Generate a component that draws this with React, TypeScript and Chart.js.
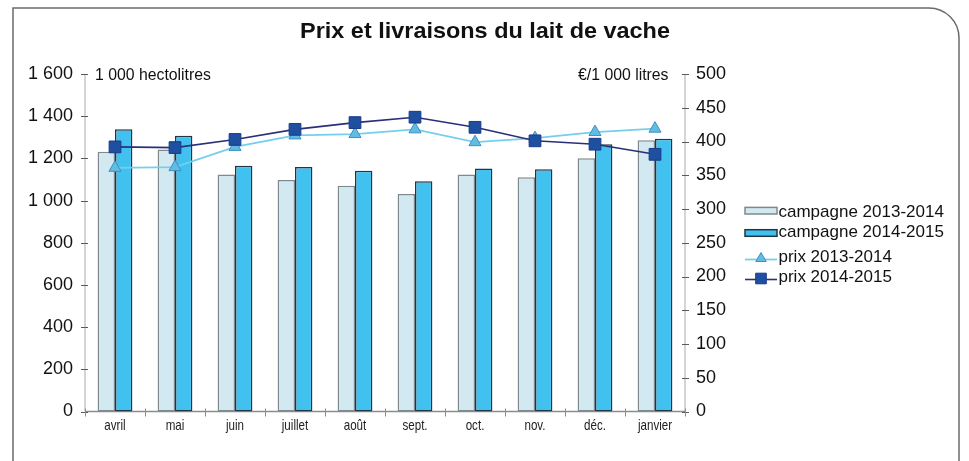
import React, { useEffect, useRef } from "react";
import { Chart, registerables } from "chart.js";

Chart.register(...registerables);

const FONT = "'Liberation Sans', Arial, Helvetica, sans-serif";

const chartTitle = "Prix et livraisons du lait de vache";
const leftUnit = "1 000 hectolitres";
const rightUnit = "€/1 000 litres";

const months = ["avril", "mai", "juin", "juillet", "août", "sept.", "oct.", "nov.", "déc.", "janvier"];
const livraisons2013 = [1231, 1242, 1124, 1097, 1070, 1031, 1124, 1111, 1201, 1286];
const livraisons2014 = [1338, 1307, 1165, 1159, 1141, 1091, 1152, 1148, 1267, 1293];
const prix2013 = [361, 362, 392, 409, 411, 418, 399, 405, 414, 419];
const prix2014 = [392, 391, 403, 418, 428, 436, 421, 401, 396, 381];

const seriesLabels = ["campagne 2013-2014", "campagne 2014-2015", "prix 2013-2014", "prix 2014-2015"];

const leftMax = 1600;
const leftStep = 200;
const rightMax = 500;
const rightStep = 50;

const fmtThousands = (v: number) =>
  v >= 1000 ? `${Math.floor(v / 1000)} ${String(v % 1000).padStart(3, "0")}` : String(v);

function drawMarker(ctx: CanvasRenderingContext2D, style: string, x: number, y: number, r: number) {
  ctx.beginPath();
  if (style === "triangle") {
    ctx.moveTo(x, y - r);
    ctx.lineTo(x + r * Math.sin(Math.PI * 2 / 3), y - r * Math.cos(Math.PI * 2 / 3));
    ctx.lineTo(x + r * Math.sin(Math.PI * 4 / 3), y - r * Math.cos(Math.PI * 4 / 3));
    ctx.closePath();
  } else {
    const s = r * Math.SQRT1_2;
    ctx.rect(x - s, y - s, 2 * s, 2 * s);
  }
  ctx.fill();
  ctx.stroke();
}

const decorPlugin = {
  id: "decor",
  beforeDatasetsDraw(chart: any) {
    const { ctx, chartArea: ca, scales } = chart;
    const ys = scales.y;
    const y1s = scales.y1;
    const xs = scales.x;
    const seg = (a: number, b: number, c: number, d: number) => {
      ctx.beginPath();
      ctx.moveTo(a, b);
      ctx.lineTo(c, d);
      ctx.stroke();
    };
    ctx.save();
    ctx.strokeStyle = "#c6c6c6";
    ctx.lineWidth = 1.5;
    seg(ca.left, ca.top, ca.left, ca.bottom);
    seg(ca.right, ca.top, ca.right, ca.bottom);
    ctx.strokeStyle = "#8c8c8c";
    seg(ca.left, ca.bottom, ca.right, ca.bottom);
    ctx.strokeStyle = "#5a5a5a";
    ctx.lineWidth = 1;
    ys.ticks.forEach((t: any) => {
      const py = Math.round(ys.getPixelForValue(t.value)) + 0.5;
      seg(ca.left - 4, py, ca.left + 3, py);
    });
    y1s.ticks.forEach((t: any) => {
      const py = Math.round(y1s.getPixelForValue(t.value)) + 0.5;
      seg(ca.right - 3, py, ca.right + 4, py);
    });
    ctx.strokeStyle = "#8c8c8c";
    for (let i = 0; i <= months.length; i++) {
      const px = Math.round(xs.getPixelForValue(i - 0.5)) + 0.5;
      seg(px, ca.bottom - 3, px, ca.bottom + 5);
    }
    ctx.restore();
  },
  afterDraw(chart: any) {
    const { ctx, chartArea: ca, scales } = chart;
    const xs = scales.x;
    ctx.save();
    // frame
    ctx.strokeStyle = "#6b6b6b";
    ctx.lineWidth = 1.5;
    const fl = 13, ft = 8, fr = 959, rad = 30;
    ctx.beginPath();
    ctx.moveTo(fl, 470);
    ctx.lineTo(fl, ft);
    ctx.lineTo(fr - rad, ft);
    ctx.arcTo(fr, ft, fr, ft + rad, rad);
    ctx.lineTo(fr, 470);
    ctx.stroke();

    // title (slightly widened face, as in the original)
    ctx.fillStyle = "#111";
    ctx.font = `bold 21.5px ${FONT}`;
    ctx.textAlign = "center";
    ctx.textBaseline = "alphabetic";
    ctx.save();
    ctx.translate(485, 37.5);
    ctx.scale(1.09, 1);
    ctx.fillText(chartTitle, 0, 0);
    ctx.restore();

    // category labels, condensed
    ctx.font = `14.5px ${FONT}`;
    ctx.fillStyle = "#222";
    ctx.textAlign = "center";
    chart.data.labels.forEach((lab: string, i: number) => {
      const px = xs.getPixelForValue(i);
      ctx.save();
      ctx.translate(px, ca.bottom + 18.5);
      ctx.scale(0.8, 1);
      ctx.fillText(lab, 0, 0);
      ctx.restore();
    });

    // unit labels
    ctx.fillStyle = "#111";
    ctx.font = `15.8px ${FONT}`;
    ctx.textAlign = "left";
    ctx.fillText(leftUnit, 95, 79.5);
    ctx.textAlign = "right";
    ctx.fillText(rightUnit, 668.5, 79.5);

    // legend
    const ds = chart.data.datasets;
    const symX = 745, symW = 32, textX = 778.5;
    const rows = [
      { base: 216.5, sym: 210.7 },
      { base: 237, sym: 233 },
      { base: 262, sym: 259.5 },
      { base: 282, sym: 279.5 },
    ];
    ctx.font = `17px ${FONT}`;
    ctx.textAlign = "left";
    ds.forEach((d: any, i: number) => {
      const r = rows[i];
      if (d.type === "line") {
        ctx.strokeStyle = d.borderColor;
        ctx.lineWidth = d.borderWidth;
        ctx.beginPath();
        ctx.moveTo(symX, r.sym);
        ctx.lineTo(symX + symW, r.sym);
        ctx.stroke();
        ctx.fillStyle = d.pointBackgroundColor;
        ctx.strokeStyle = d.pointBorderColor;
        ctx.lineWidth = 1;
        drawMarker(ctx, d.pointStyle, symX + symW / 2, r.sym - 1, d.pointStyle === "triangle" ? 6 : 7.5);
      } else {
        ctx.fillStyle = d.backgroundColor;
        ctx.strokeStyle = d.borderColor;
        ctx.lineWidth = 1.5;
        ctx.fillRect(symX, r.sym - 3.3, symW, 6.6);
        ctx.strokeRect(symX, r.sym - 3.3, symW, 6.6);
      }
      ctx.fillStyle = "#111";
      ctx.fillText(d.label, textX, r.base);
    });
    ctx.restore();
  },
};

export default function App() {
  const ref = useRef<HTMLCanvasElement | null>(null);

  useEffect(() => {
    if (!ref.current) return;
    const chart = new Chart(ref.current, {
      type: "bar",
      data: {
        labels: months,
        datasets: [
          {
            type: "bar",
            label: seriesLabels[0],
            data: livraisons2013,
            yAxisID: "y",
            backgroundColor: "#d3e9f1",
            borderColor: "#7f888c",
            borderWidth: 1.5,
            borderSkipped: false,
            categoryPercentage: 0.58,
            barPercentage: 1,
            order: 3,
          },
          {
            type: "bar",
            label: seriesLabels[1],
            data: livraisons2014,
            yAxisID: "y",
            backgroundColor: "#41c1f0",
            borderColor: "#213641",
            borderWidth: 1.5,
            borderSkipped: false,
            categoryPercentage: 0.58,
            barPercentage: 1,
            order: 3,
          },
          {
            type: "line",
            label: seriesLabels[2],
            data: prix2013,
            yAxisID: "y1",
            borderColor: "#74cfea",
            borderWidth: 1.8,
            pointStyle: "triangle",
            pointRadius: 7,
            pointBackgroundColor: "#62bce0",
            pointBorderColor: "#3e8fc6",
            pointBorderWidth: 1,
            tension: 0,
            order: 2,
          },
          {
            type: "line",
            label: seriesLabels[3],
            data: prix2014,
            yAxisID: "y1",
            borderColor: "#2b2f78",
            borderWidth: 1.6,
            pointStyle: "rect",
            pointRadius: 8.3,
            pointBackgroundColor: "#1f4fa0",
            pointBorderColor: "#183c88",
            pointBorderWidth: 1,
            tension: 0,
            order: 1,
          },
        ] as any,
      },
      options: {
        responsive: false,
        animation: false,
        devicePixelRatio: 1,
        layout: { padding: { left: 0, right: 224, top: 74, bottom: 0 } },
        plugins: {
          legend: { display: false },
          title: { display: false },
          tooltip: { enabled: false },
        },
        scales: {
          x: {
            type: "category",
            offset: true,
            grid: { display: false, drawTicks: false },
            border: { display: false },
            ticks: { display: false },
            afterFit: (s: any) => {
              s.height = 49.5;
            },
          },
          y: {
            type: "linear",
            position: "left",
            min: 0,
            max: leftMax,
            grid: { display: false, drawTicks: false },
            border: { display: false },
            ticks: {
              stepSize: leftStep,
              font: { family: FONT, size: 18 },
              color: "#111",
              padding: 12,
              callback: (v: any) => fmtThousands(Number(v)),
            },
            afterFit: (s: any) => {
              s.width = 85;
            },
          },
          y1: {
            type: "linear",
            position: "right",
            min: 0,
            max: rightMax,
            grid: { display: false, drawTicks: false },
            border: { display: false },
            ticks: {
              stepSize: rightStep,
              font: { family: FONT, size: 18 },
              color: "#111",
              padding: 11,
            },
            afterFit: (s: any) => {
              s.width = 60;
            },
          },
        },
      } as any,
      plugins: [decorPlugin],
    });
    return () => chart.destroy();
  }, []);

  return (
    <div style={{ position: "absolute", left: 0, top: 0, width: 969, height: 461, background: "#fff" }}>
      <canvas ref={ref} width={969} height={461} style={{ display: "block" }} />
    </div>
  );
}
